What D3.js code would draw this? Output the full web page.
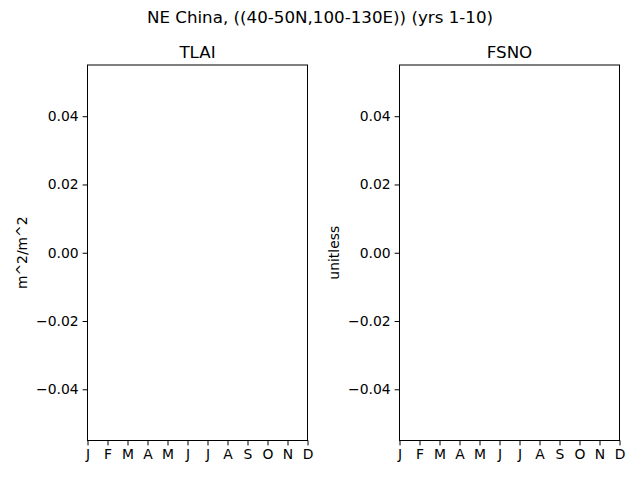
<!DOCTYPE html>
<html>
  <head>
    <meta charset="utf-8">
    <script src="https://d3js.org/d3.v7.min.js"></script>
    <style>
      body { margin: 0; background: white; }
      text { font-family: "DejaVu Sans", sans-serif; fill: black; }
      .tick text { font-size: 13.9px; }
    </style>
  </head>
  <body>
    <div id="chart"></div>
    <script>
      // chart data
      const suptitle = "NE China, ((40-50N,100-130E)) (yrs 1-10)";
      const panelTitles = ["TLAI", "FSNO"];
      const panelUnits = ["m^2/m^2", "unitless"];
      const months = ["J", "F", "M", "A", "M", "J", "J", "A", "S", "O", "N", "D"];
      const yTicks = [-0.04, -0.02, 0.0, 0.02, 0.04];
      const yDomain = [-0.055, 0.055];

      const W = 640, H = 480;
      const svg = d3.select("#chart").append("svg")
        .attr("width", W).attr("height", H);

      svg.append("text")
        .attr("x", W / 2).attr("y", 23)
        .attr("text-anchor", "middle")
        .style("font-size", "16.7px")
        .text(suptitle);

      const panelLeft = [87.5, 399.5];
      const pw = 220, plotTop = 65, plotBottom = 440.5;
      const fmt = (d) => d3.format(".2f")(d).replace("-", "\u2212");

      panelTitles.forEach((title, i) => {
        const g = svg.append("g");
        const x = d3.scalePoint().domain(d3.range(12)).range([panelLeft[i], panelLeft[i] + pw]);
        const y = d3.scaleLinear().domain(yDomain).range([plotBottom, plotTop]);

        // axes
        g.append("g")
          .attr("transform", `translate(0,${plotBottom})`)
          .call(d3.axisBottom(x).tickSize(4.9).tickPadding(4).tickFormat((d) => months[d]));
        g.append("g")
          .attr("transform", `translate(${panelLeft[i]},0)`)
          .call(d3.axisLeft(y).tickValues(yTicks).tickSize(4.9).tickPadding(4).tickFormat(fmt));

        // frame
        g.append("rect")
          .attr("x", panelLeft[i]).attr("y", plotTop)
          .attr("width", pw).attr("height", plotBottom - plotTop)
          .attr("fill", "none").attr("stroke", "black").attr("stroke-width", 1);

        g.selectAll(".domain").remove();
        g.selectAll(".tick line").attr("stroke", "black");
        g.selectAll(".tick text").attr("fill", "black");

        // panel title
        g.append("text")
          .attr("x", panelLeft[i] + pw / 2).attr("y", plotTop - 7)
          .attr("text-anchor", "middle")
          .style("font-size", "16.7px")
          .text(title);

        // y label
        g.append("text")
          .attr("transform", `translate(${panelLeft[i] - 61},${(plotTop + plotBottom) / 2}) rotate(-90)`)
          .attr("text-anchor", "middle")
          .style("font-size", "13.9px")
          .text(panelUnits[i]);
      });
    </script>
  </body>
</html>
